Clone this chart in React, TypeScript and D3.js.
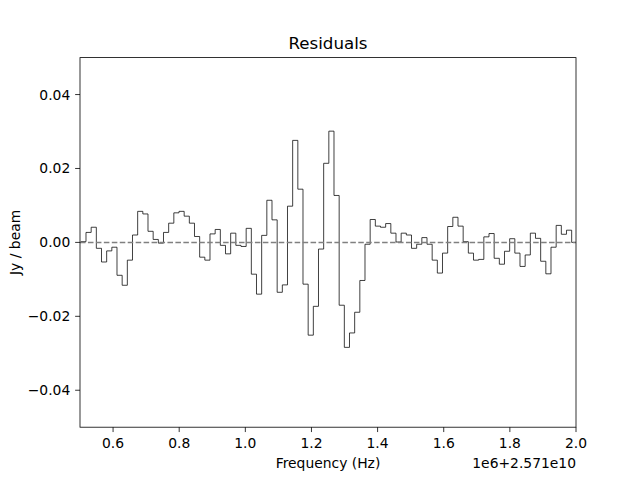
import React from "react";
import * as d3 from "d3";

// Residual values per channel (Jy / beam)
const residuals: number[] = [
  0.0002, 0.0027, 0.0041, -0.0016, -0.0053, -0.0023, -0.0013, -0.0089, -0.0116, -0.0048,
  0.0020, 0.0084, 0.0077, 0.0030, 0.0008, -0.0002, 0.0027, 0.0052, 0.0080, 0.0084,
  0.0071, 0.0052, 0.0016, -0.0040, -0.0048, 0.0023, 0.0035, -0.0008, -0.0031, 0.0025,
  -0.0008, -0.0011, 0.0038, -0.0086, -0.0140, 0.0019, 0.0114, 0.0061, -0.0135, -0.0115,
  0.0098, 0.0276, 0.0144, -0.0113, -0.0251, -0.0173, -0.0018, 0.0214, 0.0301, 0.0127,
  -0.0170, -0.0284, -0.0245, -0.0189, -0.0103, -0.0005, 0.0062, 0.0044, 0.0041, 0.0051,
  0.0025, 0.0001, 0.0025, 0.0020, -0.0016, -0.0005, 0.0013, -0.0005, -0.0048, -0.0083,
  -0.0029, 0.0043, 0.0068, 0.0044, 0.0002, -0.0029, -0.0048, -0.0046, 0.0015, 0.0024,
  -0.0043, -0.0059, -0.0024, 0.0010, -0.0029, -0.0065, -0.0034, 0.0025, 0.0011, -0.0051,
  -0.0085, -0.0013, 0.0046, 0.0022, 0.0033, 0.0000,
];

// Channel grid (MHz, relative to the offset 1e6 + 2.571e10 Hz)
const firstChannelEdge = 0.50251;
const channelWidth = 0.015625;

const xTicks = [0.6, 0.8, 1.0, 1.2, 1.4, 1.6, 1.8, 2.0];
const yTicks = [-0.04, -0.02, 0.0, 0.02, 0.04];
const xDomain: [number, number] = [0.5, 2.0];
const yDomain: [number, number] = [-0.05, 0.05];

const title = "Residuals";
const xLabel = "Frequency (Hz)";
const yLabel = "Jy / beam";
const offsetText = "1e6+2.571e10";

export default function App() {
  const W = 640, H = 480;
  const left = 80, right = 576, top = 57.6, bottom = 427.2;
  const x = d3.scaleLinear().domain(xDomain).range([left, right]);
  const y = d3.scaleLinear().domain(yDomain).range([bottom, top]);

  const edges = residuals.map((v, i) => ({ f: firstChannelEdge + i * channelWidth, v }));
  edges.push({ f: firstChannelEdge + residuals.length * channelWidth, v: residuals[residuals.length - 1] });

  const line = d3
    .line<{ f: number; v: number }>()
    .x((d) => x(d.f))
    .y((d) => y(d.v))
    .curve(d3.curveStepAfter);

  const font = "DejaVu Sans, sans-serif";
  const tickLen = 4.86;
  const pad = 4.86;

  return (
    <svg width={W} height={H} style={{ position: "absolute", left: 0, top: 0, background: "#fff" }}>
      <defs>
        <clipPath id="axclip">
          <rect x={left} y={top} width={right - left} height={bottom - top} />
        </clipPath>
      </defs>
      <rect x={0} y={0} width={W} height={H} fill="#fff" />
      <g clipPath="url(#axclip)">
        <path d={line(edges) || ""} fill="none" stroke="#000" strokeWidth={0.75} strokeLinejoin="miter" />
        <line
          x1={left}
          x2={right}
          y1={y(0)}
          y2={y(0)}
          stroke="#808080"
          strokeWidth={1.5}
          strokeDasharray="5.55 2.4"
        />
      </g>
      <rect x={left} y={top} width={right - left} height={bottom - top} fill="none" stroke="#000" strokeWidth={0.8} />
      {xTicks.map((t) => (
        <g key={"x" + t}>
          <line x1={x(t)} x2={x(t)} y1={bottom} y2={bottom + tickLen} stroke="#000" strokeWidth={0.8} />
          <text x={x(t)} y={bottom + tickLen + pad + 10.6} textAnchor="middle" fontFamily={font} fontSize={13.89}>
            {t.toFixed(1)}
          </text>
        </g>
      ))}
      {yTicks.map((t) => (
        <g key={"y" + t}>
          <line x1={left - tickLen} x2={left} y1={y(t)} y2={y(t)} stroke="#000" strokeWidth={0.8} />
          <text
            x={left - tickLen - pad}
            y={y(t) + 5}
            textAnchor="end"
            fontFamily={font}
            fontSize={13.89}
          >
            {t === 0 ? "0.00" : (t < 0 ? "\u2212" : "") + Math.abs(t).toFixed(2)}
          </text>
        </g>
      ))}
      <text x={(left + right) / 2} y={bottom + 40.5} textAnchor="middle" fontFamily={font} fontSize={13.89}>
        {xLabel}
      </text>
      <text x={right} y={bottom + 40.5} textAnchor="end" fontFamily={font} fontSize={13.89}>
        {offsetText}
      </text>
      <text
        transform={`translate(${19.5},${(top + bottom) / 2}) rotate(-90)`}
        textAnchor="middle"
        fontFamily={font}
        fontSize={13.89}
      >
        {yLabel}
      </text>
      <text x={(left + right) / 2} y={top - 8.3} textAnchor="middle" fontFamily={font} fontSize={16.67}>
        {title}
      </text>
    </svg>
  );
}
